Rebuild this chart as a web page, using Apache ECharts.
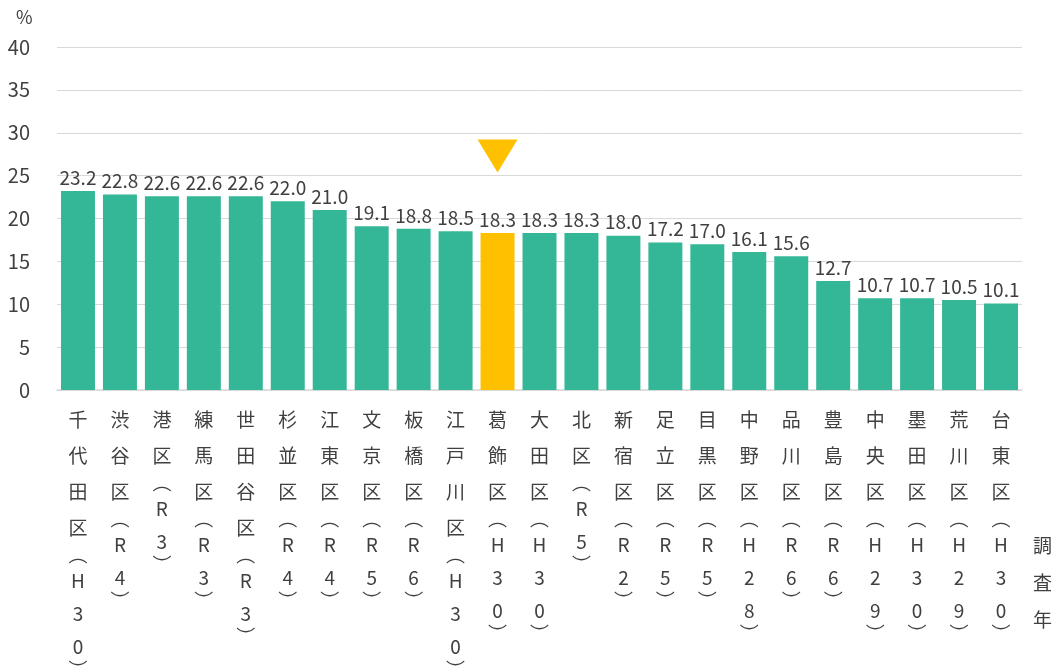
<!DOCTYPE html>
<html><head><meta charset="utf-8">
<script src="https://cdn.jsdelivr.net/npm/echarts@6/dist/echarts.min.js"></script>
<style>html,body{margin:0;padding:0;background:#fff}#c{width:1058px;height:671px}</style>
</head><body><div id="c"></div>
<script>
const categories = ['千代田区（H30）','渋谷区（R4）','港区（R3）','練馬区（R3）','世田谷区（R3）','杉並区（R4）','江東区（R4）','文京区（R5）','板橋区（R6）','江戸川区（H30）','葛飾区（H30）','大田区（H30）','北区（R5）','新宿区（R2）','足立区（R5）','目黒区（R5）','中野区（H28）','品川区（R6）','豊島区（R6）','中央区（H29）','墨田区（H30）','荒川区（H29）','台東区（H30）'];
const values = [23.2,22.8,22.6,22.6,22.6,22.0,21.0,19.1,18.8,18.5,18.3,18.3,18.3,18.0,17.2,17.0,16.1,15.6,12.7,10.7,10.7,10.5,10.1];
const highlight = '葛飾区（H30）';
const yTicks = [0,5,10,15,20,25,30,35,40];
const unitLabel = '%';
const xAxisTitle = '調査年';

const GREEN = '#34B796', YELLOW = '#FFC000';
const FONT = '"Noto Sans CJK JP", "Noto Sans", sans-serif';
function vertical(s){
  return Array.from(s).map(ch => {
    if (ch === '（') return '{o|︵}';
    if (ch === '）') return '{e|︶}';
    if (/[A-Za-z0-9]/.test(ch)) return '{a|' + ch + '}';
    return '{c|' + ch + '}';
  }).join('\n');
}
const chart = echarts.init(document.getElementById('c'));
chart.setOption({
  animation: false,
  textStyle: {fontFamily: FONT},
  grid: {left: 57, right: 36, top: 47, bottom: 281, containLabel: false, outerBoundsMode: 'none'},
  xAxis: {
    type: 'category', data: categories,
    axisLine: {lineStyle: {color: '#d9d9d9', width: 1.5}},
    axisTick: {show: false},
    axisLabel: {interval: 0, margin: 12, color: '#404040', fontSize: 19,
      verticalAlign: 'top', formatter: v => vertical(v),
      rich: {
        c: {fontSize: 19, lineHeight: 36, color: '#404040', fontFamily: FONT},
        a: {fontSize: 19, lineHeight: 33, color: '#404040', fontFamily: FONT},
        o: {fontSize: 19, lineHeight: 18, color: '#404040', fontFamily: FONT},
        e: {fontSize: 19, lineHeight: 14, color: '#404040', fontFamily: FONT}
      }}
  },
  yAxis: {
    type: 'value', min: yTicks[0], max: yTicks[yTicks.length-1], interval: 5,
    axisLine: {show: false}, axisTick: {show: false},
    axisLabel: {color: '#404040', fontSize: 20, margin: 27},
    splitLine: {lineStyle: {color: '#d9d9d9', width: 1}}
  },
  series: [{
    type: 'bar', barCategoryGap: '19%',
    data: values.map((v, i) => ({value: v, itemStyle: {color: categories[i] === highlight ? YELLOW : GREEN}})),
    label: {show: true, position: 'top', distance: 4, color: '#404040', fontSize: 19,
      formatter: p => p.value.toFixed(1)},
    markPoint: {
      symbol: 'triangle', symbolRotate: 180, symbolSize: [40, 33],
      itemStyle: {color: YELLOW}, label: {show: false},
      data: [{coord: [highlight, 27.3]}]
    }
  }],
  graphic: [
    {type: 'text', left: 16, top: 8, style: {text: unitLabel, fill: '#404040', font: '18px ' + FONT}},
    {type: 'text', left: 1033, top: 527, style: {text: Array.from(xAxisTitle).join('\n'), lineHeight: 37, fill: '#404040', font: '19px ' + FONT}}
  ]
});
</script></body></html>
